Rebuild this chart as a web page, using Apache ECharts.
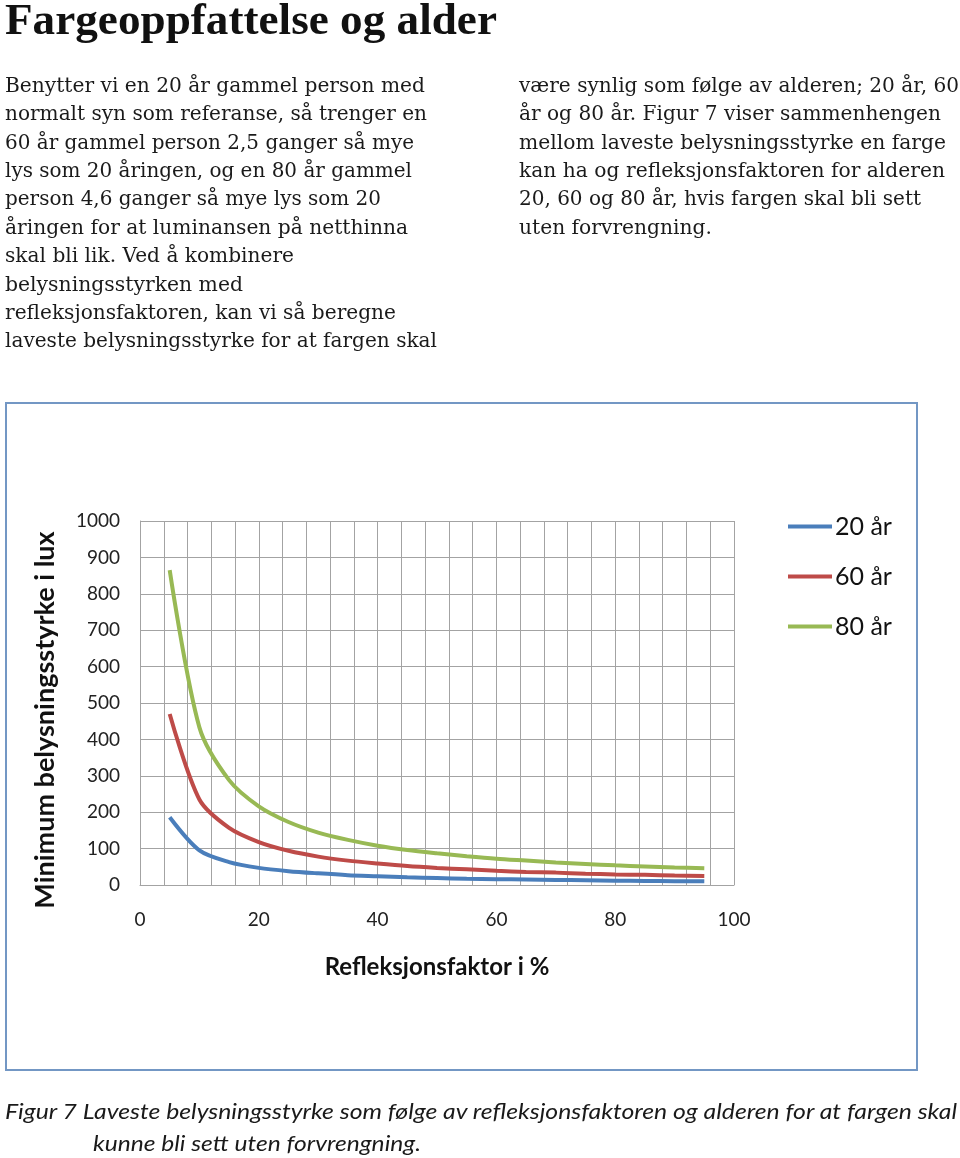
<!DOCTYPE html>
<html>
<head>
<meta charset="utf-8">
<script src="https://cdn.jsdelivr.net/npm/echarts@6/dist/echarts.min.js"></script>
<style>
  html, body { margin:0; padding:0; background:#fff; }
  #page { position:relative; width:960px; height:1158px; overflow:hidden; }
  #chart { position:absolute; left:0; top:0; width:960px; height:1158px; }
  .ln { position:absolute; white-space:nowrap; transform-origin:0 50%; color:#111; }
  .ln span { display:inline-block; }
  .title { font-family:"Liberation Serif", serif; font-weight:bold; font-size:45px; line-height:46px; }
  .body { font-family:"DejaVu Serif", serif; font-size:20px; line-height:28px; color:#1a1a1a; }
  .cap { font-family:Lato, sans-serif; font-style:italic; font-size:22px; line-height:30px; color:#1a1a1a; }
  #box { position:absolute; left:5px; top:402px; width:909px; height:665px; border:2px solid #7397c4; box-sizing:content-box; }
</style>
</head>
<body>
<div id="page">
  <div id="box"></div>
  <div id="chart"></div>
  <div id="text"></div>
</div>
<script>
// ---- Data ----
const seriesNames = ['20 år', '60 år', '80 år'];
const reflectance = [5, 10, 15, 20, 25, 30, 35, 40, 45, 50, 55, 60, 65, 70, 75, 80, 85, 90, 95];
const lux20 = [186, 95, 63, 47, 38, 32, 27, 24, 21, 19, 17, 16, 15, 14, 13, 12, 11, 10.5, 10];
const lux60 = [470, 235, 157, 118, 94, 78, 67, 59, 52, 47, 43, 39, 36, 34, 31, 29, 28, 26, 25];
const lux80 = [865, 433, 288, 216, 173, 144, 124, 108, 96, 87, 79, 72, 67, 62, 58, 54, 51, 48, 46];
const yTickValues = [0, 100, 200, 300, 400, 500, 600, 700, 800, 900, 1000];
const xTickLabels = [0, 20, 40, 60, 80, 100];
const seriesColors = ['#4a7ebb', '#be4b48', '#98b954'];
const yAxisTitle = 'Minimum belysningsstyrke i lux';
const xAxisTitle = 'Refleksjonsfaktor i %';

// ---- Document text ----
const textLines = [
  ['title', 'Fargeoppfattelse og alder', 5, 19, 492],
  ['body', 'Benytter vi en 20 år gammel person med', 5, 85, 420],
  ['body', 'normalt syn som referanse, så trenger en', 5, 113, 422],
  ['body', '60 år gammel person 2,5 ganger så mye', 5, 142, 409],
  ['body', 'lys som 20 åringen, og en 80 år gammel', 5, 170, 407],
  ['body', 'person 4,6 ganger så mye lys som 20', 5, 198, 376],
  ['body', 'åringen for at luminansen på netthinna', 5, 227, 403],
  ['body', 'skal bli lik. Ved å kombinere', 5, 255, 289],
  ['body', 'belysningsstyrken med', 5, 284, 238],
  ['body', 'refleksjonsfaktoren, kan vi så beregne', 5, 312, 391],
  ['body', 'laveste belysningsstyrke for at fargen skal', 5, 340, 432],
  ['body', 'være synlig som følge av alderen; 20 år, 60', 519, 85, 440],
  ['body', 'år og 80 år. Figur 7 viser sammenhengen', 519, 113, 422],
  ['body', 'mellom laveste belysningsstyrke en farge', 519, 142, 427],
  ['body', 'kan ha og refleksjonsfaktoren for alderen', 519, 170, 426],
  ['body', '20, 60 og 80 år, hvis fargen skal bli sett', 519, 198, 402],
  ['body', 'uten forvrengning.', 519, 227, 193],
  ['cap', 'Figur 7  Laveste belysningsstyrke som følge av refleksjonsfaktoren og alderen for at fargen skal', 5, 1111, 952],
  ['cap', 'kunne bli sett uten forvrengning.', 93, 1143, 328]
];
const holder = document.getElementById('text');
textLines.forEach(([cls, str, x, cy, w]) => {
  const d = document.createElement('div');
  d.className = 'ln ' + cls;
  const s = document.createElement('span');
  s.textContent = str;
  d.appendChild(s);
  holder.appendChild(d);
  const lh = parseFloat(getComputedStyle(d).lineHeight);
  d.style.left = x + 'px';
  d.style.top = (cy - lh / 2) + 'px';
  const mw = s.getBoundingClientRect().width;
  d.style.transform = 'scaleX(' + (w / mw).toFixed(4) + ')';
});

// ---- Chart ----
const chart = echarts.init(document.getElementById('chart'), null, { renderer: 'canvas' });
const toPairs = ys => reflectance.map((x, i) => [x, ys[i]]);
const gridColor = '#a3a3a3';
chart.setOption({
  animation: false,
  backgroundColor: 'transparent',
  grid: { left: 140, right: 226, top: 521, bottom: 273, containLabel: false },
  legend: {
    orient: 'vertical',
    left: 783,
    top: 509,
    icon: 'rect',
    itemWidth: 44,
    itemHeight: 4,
    itemGap: 25,
    data: seriesNames,
    textStyle: { fontFamily: 'Lato', fontSize: 25, color: '#111', padding: [0, 0, 0, -2] }
  },
  graphic: [{
    type: 'text',
    x: 45,
    y: 720,
    rotation: Math.PI / 2,
    style: {
      text: yAxisTitle,
      font: 'bold 27px Lato',
      fill: '#111',
      textAlign: 'center',
      textVerticalAlign: 'middle'
    }
  }],
  xAxis: {
    type: 'value',
    min: 0, max: 100, interval: 4,
    name: xAxisTitle,
    nameLocation: 'middle',
    nameGap: 70,
    nameTextStyle: { fontFamily: 'Lato', fontWeight: 'bold', fontSize: 24, color: '#111' },
    axisLine: { show: true, lineStyle: { color: gridColor, width: 1 } },
    axisTick: { show: false },
    axisLabel: {
      margin: 25,
      fontFamily: 'Lato', fontSize: 19, color: '#222',
      formatter: v => xTickLabels.includes(v) ? String(v) : ''
    },
    splitLine: { show: true, lineStyle: { color: gridColor, width: 1 } }
  },
  yAxis: {
    type: 'value',
    min: 0, max: 1000, interval: 100,
    axisLine: { show: true, lineStyle: { color: gridColor, width: 1 } },
    axisTick: { show: false },
    axisLabel: {
      margin: 20,
      fontFamily: 'Lato', fontSize: 19, color: '#222',
      formatter: v => yTickValues.includes(v) ? String(v) : ''
    },
    splitLine: { show: true, lineStyle: { color: gridColor, width: 1 } }
  },
  series: [lux20, lux60, lux80].map((ys, i) => ({
    name: seriesNames[i],
    type: 'line',
    data: toPairs(ys),
    smooth: 0.3,
    symbol: 'none',
    color: seriesColors[i],
    lineStyle: { width: 4, color: seriesColors[i] }
  }))
});
</script>
</body>
</html>
